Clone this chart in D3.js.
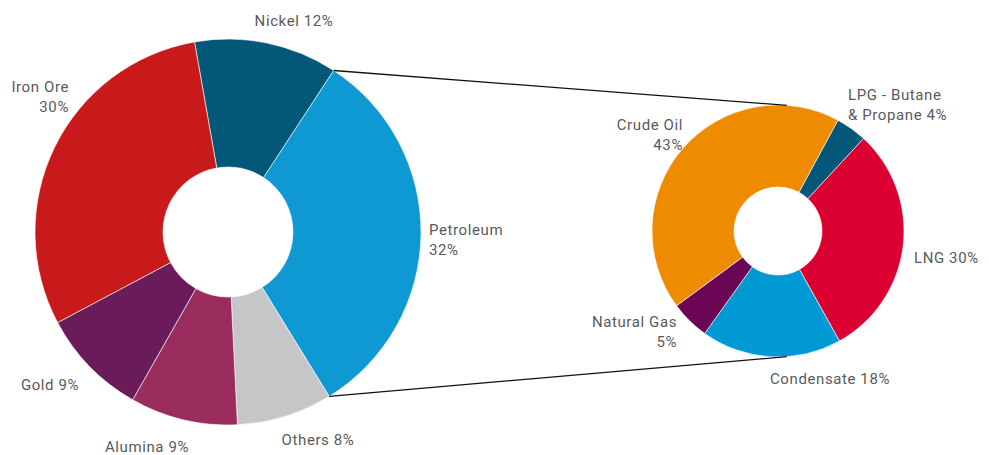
<html>
<script src="https://d3js.org/d3.v7.min.js"></script>
<style>
    body { margin: 0; background: #fff; }
    text { font-family: Roboto, "Noto Sans", sans-serif; font-size: 15px; fill: #5a5a5a; letter-spacing: 0.6px; }
</style>
<body>
<svg id="chart"></svg>
<script>
    // left donut: commodity share
    var leftLabels = ["Nickel", "Petroleum", "Others", "Alumina", "Gold", "Iron Ore"];
    var leftValues = [12, 32, 8, 9, 9, 30];
    var leftColors = ["#03587a", "#0f99d2", "#c5c6c8", "#9b2d5e", "#6a1b5a", "#c8191b"];

    // right donut: petroleum breakdown
    var rightLabels = ["LPG - Butane & Propane", "LNG", "Condensate", "Natural Gas", "Crude Oil"];
    var rightValues = [4, 30, 18, 5, 43];
    var rightColors = ["#03587a", "#dc0032", "#0099d4", "#6b0655", "#ef8b00"];

    var width = 989, height = 455;
    var svg = d3.select("#chart").attr("width", width).attr("height", height);

    var toRad = Math.PI / 180;

    var leftCx = 228, leftCy = 232, leftR = 193, leftInner = 65;
    var rightCx = 778, rightCy = 231, rightR = 126, rightInner = 44;

    function drawDonut(cx, cy, r0, r1, startDeg, values, colors) {
        var pie = d3.pie().sort(null).value(d => d)
            .startAngle(startDeg * toRad).endAngle((startDeg + 360) * toRad);
        var arcs = pie(values);
        var arc = d3.arc().innerRadius(r0).outerRadius(r1);
        svg.append("g")
            .attr("transform", "translate(" + cx + "," + cy + ")")
            .selectAll("path")
            .data(arcs)
            .enter()
            .append("path")
            .attr("d", arc)
            .attr("fill", (d, i) => colors[i])
            .attr("stroke", "#fff")
            .attr("stroke-width", 0.6);
        return arcs;
    }

    var leftArcs = drawDonut(leftCx, leftCy, leftInner, leftR, -10, leftValues, leftColors);
    var rightArcs = drawDonut(rightCx, rightCy, rightInner, rightR, 28.4, rightValues, rightColors);

    // connector lines from petroleum slice to the breakdown donut
    function pt(cx, cy, r, a) {
        return [cx + r * Math.sin(a), cy - r * Math.cos(a)];
    }
    var pet = leftArcs[1];
    var lines = [
        [pt(leftCx, leftCy, leftR, pet.startAngle), pt(rightCx, rightCy, rightR, 4 * toRad)],
        [pt(leftCx, leftCy, leftR, pet.endAngle), pt(rightCx, rightCy, rightR, 176 * toRad)]
    ];
    svg.append("g").selectAll("line")
        .data(lines)
        .enter()
        .append("line")
        .attr("x1", d => d[0][0]).attr("y1", d => d[0][1])
        .attr("x2", d => d[1][0]).attr("y2", d => d[1][1])
        .attr("stroke", "#111")
        .attr("stroke-width", 1.3);

    // labels: text lines, anchor, x, first baseline
    var labelSpecs = [
        { lines: ["Nickel 12%"], anchor: "middle", x: 294, y: 26 },
        { lines: ["Petroleum", "32%"], anchor: "start", x: 429, y: 235 },
        { lines: ["Others 8%"], anchor: "middle", x: 318, y: 445 },
        { lines: ["Alumina 9%"], anchor: "middle", x: 147, y: 452 },
        { lines: ["Gold 9%"], anchor: "middle", x: 50, y: 390 },
        { lines: ["Iron Ore", "30%"], anchor: "end", x: 69, y: 92 },
        { lines: ["LPG - Butane", "& Propane 4%"], anchor: "start", x: 848, y: 100 },
        { lines: ["LNG 30%"], anchor: "start", x: 914, y: 263 },
        { lines: ["Condensate 18%"], anchor: "middle", x: 830, y: 384 },
        { lines: ["Natural Gas", "5%"], anchor: "end", x: 677, y: 327 },
        { lines: ["Crude Oil", "43%"], anchor: "end", x: 683, y: 130 }
    ];

    var lbl = svg.append("g").selectAll("text")
        .data(labelSpecs)
        .enter()
        .append("text")
        .attr("text-anchor", d => d.anchor)
        .attr("x", d => d.x)
        .attr("y", d => d.y);
    lbl.selectAll("tspan")
        .data(d => d.lines.map(l => ({ t: l, x: d.x })))
        .enter()
        .append("tspan")
        .attr("x", d => d.x)
        .attr("dy", (d, i) => i == 0 ? 0 : 20)
        .text(d => d.t);
</script>
</body>
</html>
